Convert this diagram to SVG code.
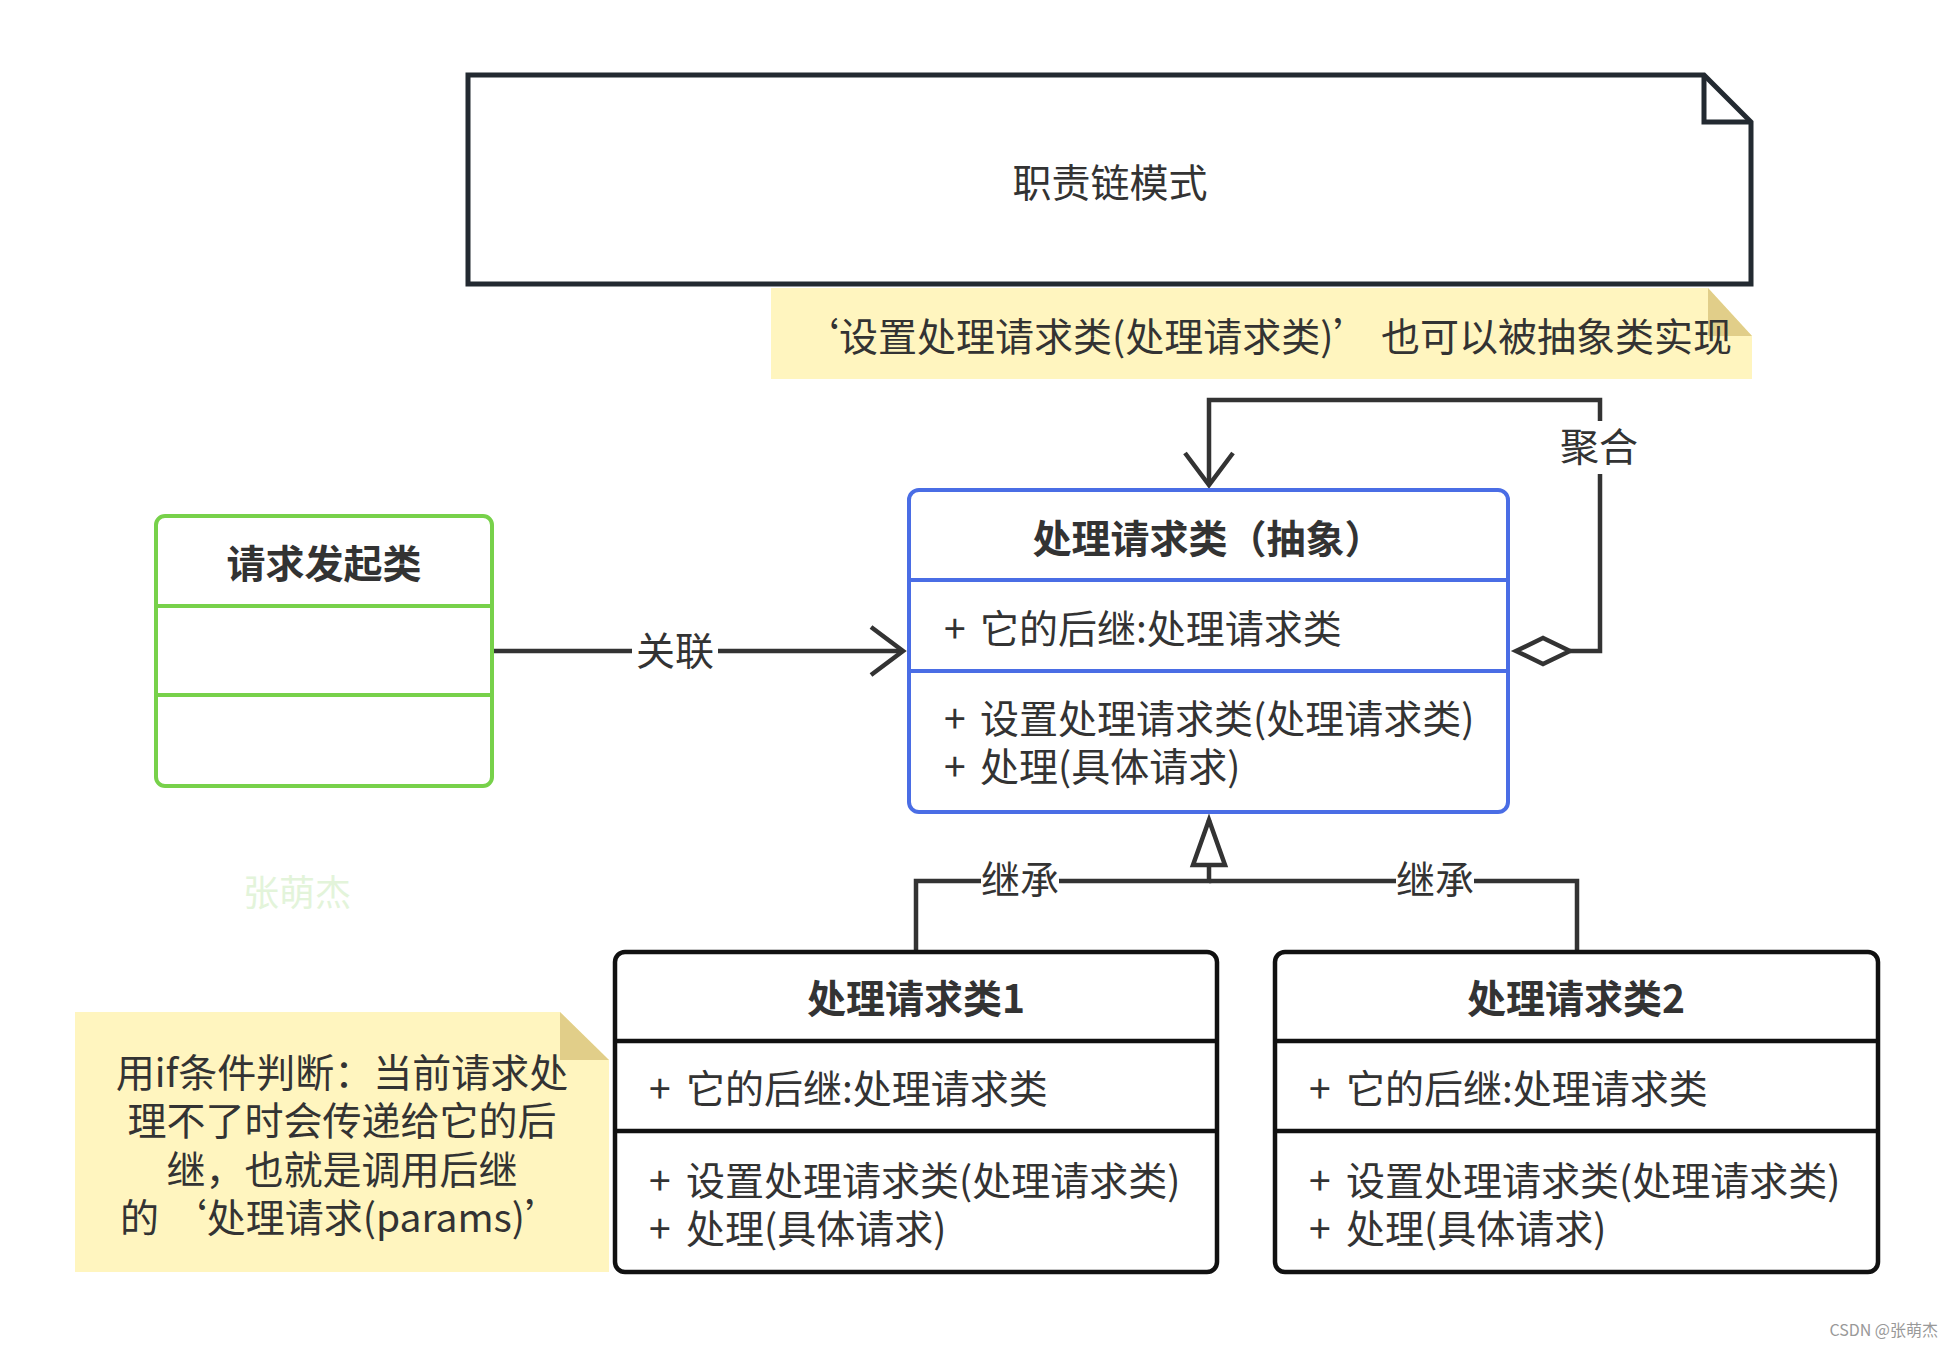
<svg xmlns="http://www.w3.org/2000/svg" width="1953" height="1347" viewBox="0 0 1953 1347">
<style>
text{font-family:"Noto Sans CJK SC","Microsoft YaHei",sans-serif;fill:#333;font-size:39px}
.b{font-weight:700}
.m{text-anchor:middle}
.conn{fill:none;stroke:#333;stroke-width:4.5}
.bg{fill:#fff}
.note{fill:#fff5bf}
.fold{fill:#e1ce89}
.doc{fill:#fff;stroke:#232a31;stroke-width:5;stroke-linejoin:miter}
.g{fill:#fff;stroke:#77d14a;stroke-width:4}
.gl{stroke:#77d14a;stroke-width:4}
.bl{fill:#fff;stroke:#4a6de5;stroke-width:4}
.bll{stroke:#4a6de5;stroke-width:4}
.k{fill:#fff;stroke:#111;stroke-width:4.5}
.kl{stroke:#111;stroke-width:4.5}
</style>
<defs>
<marker id="open" markerUnits="userSpaceOnUse" viewBox="-40 -30 46 60" refX="0" refY="0" markerWidth="46" markerHeight="60" orient="auto">
<path d="M-32,-24 L0,0 L-32,24" fill="none" stroke="#333" stroke-width="4.5"/>
</marker>
<marker id="diamond" markerUnits="userSpaceOnUse" viewBox="-60 -20 64 40" refX="0" refY="0" markerWidth="64" markerHeight="40" orient="auto">
<path d="M0,0 L-27,-13 L-54,0 L-27,13 Z" fill="#fff" stroke="#333" stroke-width="4.5"/>
</marker>
<marker id="tri" markerUnits="userSpaceOnUse" viewBox="-50 -22 56 44" refX="0" refY="0" markerWidth="56" markerHeight="44" orient="auto">
<path d="M0,0 L-45,-16 L-45,16 Z" fill="#fff" stroke="#333" stroke-width="4.5"/>
</marker>
</defs>
<rect width="1953" height="1347" fill="#fff"/>

<g id="title-note">
<path class="doc" d="M468,75 H1704 L1751,122 V284 H468 Z"/>
<path d="M1704,75 V122 H1751" fill="none" stroke="#232a31" stroke-width="5"/>
<text class="m" x="1110" y="197">职责链模式</text>
</g>

<g id="note-top">
<path class="note" d="M771,288 H1708 L1752,336 V379 H771 Z"/>
<path class="fold" d="M1708,288 V336 H1752 Z"/>
<text x="800" y="351">‘设置处理请求类(处理请求类)’ 也可以被抽象类实现</text>
</g>

<g id="watermark">
<text class="m" x="297" y="906" style="fill:#e3f4da;font-size:36px">张萌杰</text>
</g>

<g id="connectors">
<path class="conn" d="M492,651 H903" marker-end="url(#open)"/>
<rect class="bg" x="632" y="628" width="86" height="46"/>
<text class="m" x="675" y="665">关联</text>

<path class="conn" d="M1570,651 H1600 V400 H1209 V485" marker-start="url(#diamond)" marker-end="url(#open)"/>
<rect class="bg" x="1558" y="421" width="84" height="53"/>
<text class="m" x="1599" y="461">聚合</text>

<path class="conn" d="M916,951 V881 H1209 V820" marker-end="url(#tri)"/>
<path class="conn" d="M1577,951 V881 H1209"/>
<rect class="bg" x="981" y="858" width="78" height="46"/>
<text class="m" x="1020" y="894">继承</text>
<rect class="bg" x="1396" y="858" width="78" height="46"/>
<text class="m" x="1435" y="894">继承</text>
</g>

<g id="requester">
<rect class="g" x="156" y="516" width="336" height="270" rx="9"/>
<line class="gl" x1="156" y1="606" x2="492" y2="606"/>
<line class="gl" x1="156" y1="695" x2="492" y2="695"/>
<text class="m b" x="324" y="578">请求发起类</text>
</g>

<g id="handler-abstract">
<rect class="bl" x="909" y="490" width="599" height="322" rx="10"/>
<line class="bll" x1="909" y1="580" x2="1508" y2="580"/>
<line class="bll" x1="909" y1="671" x2="1508" y2="671"/>
<text class="m b" x="1208" y="553">处理请求类（抽象）</text>
<text x="944" y="643">+<tspan x="980">它的后继:处理请求类</tspan></text>
<text x="944" y="733">+<tspan x="980">设置处理请求类(处理请求类)</tspan></text>
<text x="944" y="781">+<tspan x="980">处理(具体请求)</tspan></text>
</g>

<g id="handler-1">
<rect class="k" x="615" y="952" width="602" height="320" rx="10"/>
<line class="kl" x1="615" y1="1041" x2="1217" y2="1041"/>
<line class="kl" x1="615" y1="1131" x2="1217" y2="1131"/>
<text class="m b" x="916" y="1013">处理请求类1</text>
<text x="649" y="1103">+<tspan x="686">它的后继:处理请求类</tspan></text>
<text x="649" y="1195">+<tspan x="686">设置处理请求类(处理请求类)</tspan></text>
<text x="649" y="1243">+<tspan x="686">处理(具体请求)</tspan></text>
</g>

<g id="handler-2">
<rect class="k" x="1275" y="952" width="603" height="320" rx="10"/>
<line class="kl" x1="1275" y1="1041" x2="1878" y2="1041"/>
<line class="kl" x1="1275" y1="1131" x2="1878" y2="1131"/>
<text class="m b" x="1576" y="1013">处理请求类2</text>
<text x="1309" y="1103">+<tspan x="1346">它的后继:处理请求类</tspan></text>
<text x="1309" y="1195">+<tspan x="1346">设置处理请求类(处理请求类)</tspan></text>
<text x="1309" y="1243">+<tspan x="1346">处理(具体请求)</tspan></text>
</g>

<g id="note-bottom">
<path class="note" d="M75,1012 H560 L609,1060 V1272 H75 Z"/>
<path class="fold" d="M560,1012 V1060 H609 Z"/>
<text class="m" x="342" y="1087">用if条件判断：当前请求处</text>
<text class="m" x="342" y="1135">理不了时会传递给它的后</text>
<text class="m" x="342" y="1184">继，也就是调用后继</text>
<text class="m" x="342" y="1232">的 ‘处理请求(params)’</text>
</g>

<g id="credit">
<text x="1938" y="1336" style="text-anchor:end;font-size:16px;fill:#999">CSDN @张萌杰</text>
</g>
</svg>
